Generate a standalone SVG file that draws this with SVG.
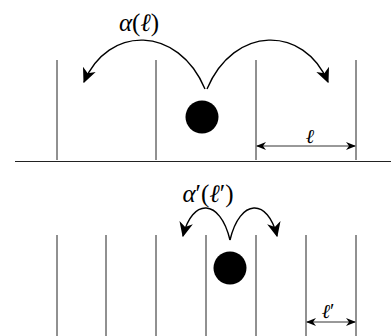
<svg xmlns="http://www.w3.org/2000/svg" width="391" height="336" viewBox="0 0 391 336">
<style>
.wall{stroke:#222;stroke-width:1;fill:none}
.arc{stroke:#000;stroke-width:1.4;fill:none}
.dim{stroke:#333;stroke-width:1;fill:none}
.lbl{font-family:"Liberation Serif","DejaVu Serif",serif;fill:#000}
.it{font-style:italic}
</style>
<defs>
<marker id="stealth" viewBox="0 0 10 10" refX="9" refY="5" markerWidth="10" markerHeight="10" markerUnits="userSpaceOnUse" orient="auto">
<path d="M0,1 L10,5 L0,9 L3,5 Z" fill="#000"/>
</marker>
<marker id="stealthBig" viewBox="0 0 12 12" refX="11" refY="6" markerWidth="15" markerHeight="15" markerUnits="userSpaceOnUse" orient="auto">
<path d="M0,0.5 L12,6 L0,11.5 L3.5,6 Z" fill="#000"/>
</marker>
<marker id="stealthStart" viewBox="0 0 10 10" refX="1" refY="5" markerWidth="10" markerHeight="10" markerUnits="userSpaceOnUse" orient="auto">
<path d="M10,1 L0,5 L10,9 L7,5 Z" fill="#000"/>
</marker>
</defs>
<g id="top-panel">
<line class="wall" x1="15" y1="161.5" x2="391" y2="161.5"/>
<line class="wall" x1="57" y1="60" x2="57" y2="160"/>
<line class="wall" x1="156" y1="60" x2="156" y2="160"/>
<line class="wall" x1="256" y1="60" x2="256" y2="160"/>
<line class="wall" x1="356" y1="60" x2="356" y2="160"/>
<circle id="ball-top" cx="202" cy="117" r="16.5" fill="#000"/>
<text class="lbl" x="139" y="31" font-size="25" text-anchor="middle"><tspan class="it">α</tspan>(<tspan class="it">ℓ</tspan>)</text>
<text class="lbl it" x="310" y="143" font-size="20" text-anchor="middle">ℓ</text>
</g>
<g id="bottom-panel">
<line class="wall" x1="57" y1="235" x2="57" y2="336"/>
<line class="wall" x1="106" y1="235" x2="106" y2="336"/>
<line class="wall" x1="156" y1="235" x2="156" y2="336"/>
<line class="wall" x1="206" y1="235" x2="206" y2="336"/>
<line class="wall" x1="256" y1="235" x2="256" y2="336"/>
<line class="wall" x1="306" y1="235" x2="306" y2="336"/>
<line class="wall" x1="356" y1="235" x2="356" y2="336"/>
<circle id="ball-bottom" cx="230" cy="268" r="16.5" fill="#000"/>
<text class="lbl" x="208" y="202" font-size="25" text-anchor="middle"><tspan class="it">α</tspan>′(<tspan class="it">ℓ</tspan>′)</text>
<text class="lbl" x="328" y="318" font-size="20" text-anchor="middle"><tspan class="it">ℓ</tspan>′</text>
</g>
<g id="connectors">
<path class="arc" d="M205,89 C178,25 108,25 84,82" marker-end="url(#stealthBig)"/>
<path class="arc" d="M207,89 C234,25 304,25 328,82" marker-end="url(#stealthBig)"/>
<path class="arc" d="M230,240 C220,198 192,198 183,236" marker-end="url(#stealthBig)"/>
<path class="arc" d="M230,240 C240,198 268,198 277,236" marker-end="url(#stealthBig)"/>
<line class="dim" x1="257" y1="146" x2="355" y2="146" marker-start="url(#stealthStart)" marker-end="url(#stealth)"/>
<line class="dim" x1="307" y1="322" x2="355" y2="322" marker-start="url(#stealthStart)" marker-end="url(#stealth)"/>
</g>
</svg>
